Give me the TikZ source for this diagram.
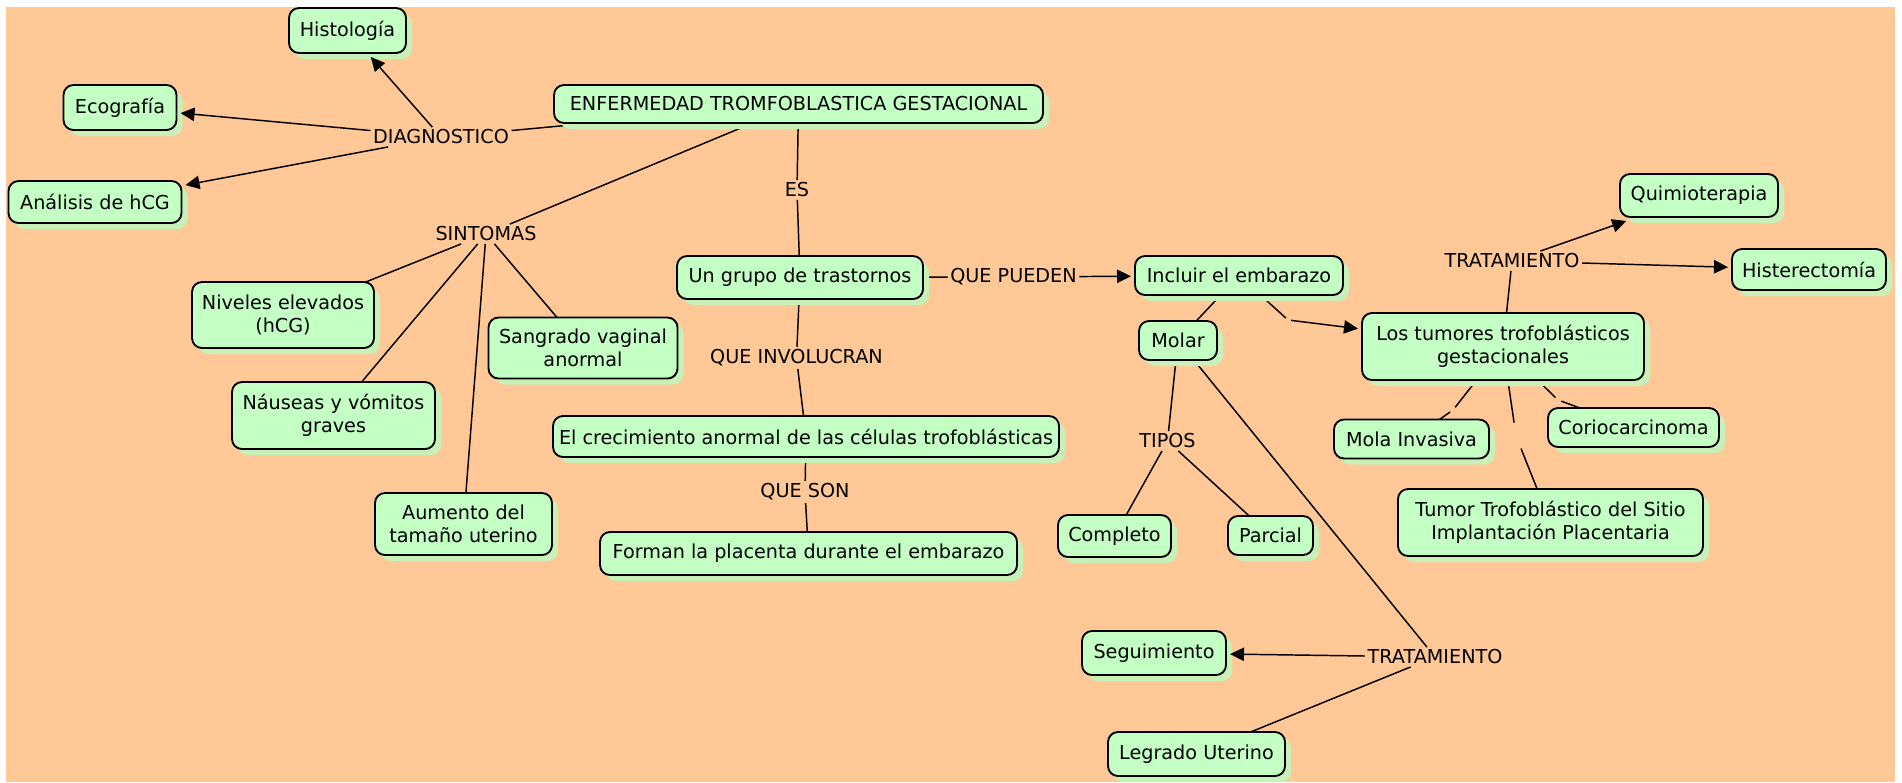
\documentclass[tikz,border=0pt]{standalone}
\usepackage{fontspec}
\setmainfont{DejaVu Sans}
\usetikzlibrary{arrows.meta,shadows}
\definecolor{bgorange}{RGB}{255,200,150}
\definecolor{boxgreen}{RGB}{196,255,196}
\definecolor{shadowgreen}{RGB}{200,240,185}
\pgfdeclarelayer{back}
\pgfdeclarelayer{lines}
\pgfsetlayers{back,lines,main}
\begin{document}
\begin{tikzpicture}[x=0.75pt,y=-0.75pt,
  every node/.style={font=\fontsize{14.4pt}{17.5pt}\selectfont},
  concept/.style={draw=black, line width=1.4pt, fill=boxgreen, rounded corners=7.5pt,
     inner sep=0pt, outer sep=3pt, align=center,
     general shadow={fill=shadowgreen, draw=none, shadow xshift=4.5pt, shadow yshift=-4.5pt}},
  sz/.style 2 args={minimum width={0.75pt*#1}, minimum height={0.75pt*#2}},
  lbl/.style={inner sep=2pt, outer sep=0pt},
  blankgap/.style={circle, inner sep=0pt, outer sep=0pt, minimum size={0.75pt*#1}},
  conn/.style={draw=black, line width=1.1pt},
  arr/.style={conn, -{Triangle[length=10.5pt,width=10pt]}}
]
\begin{pgfonlayer}{back}
\useasboundingbox (0,0) rectangle (1902,782);
\fill[white] (0,0) rectangle (1902,782);
\fill[bgorange] (6,7) rectangle (1895,782);
\end{pgfonlayer}

% concepts
\node[concept, sz={117}{45}] (hist) at (347.5,30.5) {Histología};
\node[concept, sz={113}{45}] (eco) at (120,107.5) {Ecografía};
\node[concept, sz={173}{42}] (anal) at (95,202) {Análisis de hCG};
\node[concept, sz={489}{38}] (enf) at (798.5,104) {ENFERMEDAD TROMFOBLASTICA GESTACIONAL};
\node[concept, sz={182}{66}] (niv) at (283,315) {Niveles elevados\\(hCG)};
\node[concept, sz={189}{61}] (sang) at (583,348) {Sangrado vaginal\\anormal};
\node[concept, sz={203}{67}] (naus) at (333.5,415.5) {Náuseas y vómitos\\graves};
\node[concept, sz={177}{62}] (aum) at (463.5,524) {Aumento del\\tamaño uterino};
\node[concept, sz={246}{43}] (grupo) at (800,277.5) {Un grupo de trastornos};
\node[concept, sz={208}{39}] (incl) at (1239,275.5) {Incluir el embarazo};
\node[concept, sz={78}{39}] (molar) at (1178,340.5) {Molar};
\node[concept, sz={506}{41}] (crec) at (806,436.5) {El crecimiento anormal de las células trofoblásticas};
\node[concept, sz={417}{43}] (forman) at (808.5,553.5) {Forman la placenta durante el embarazo};
\node[concept, sz={113}{42}] (compl) at (1114.5,536) {Completo};
\node[concept, sz={85}{39}] (parc) at (1270.5,535.5) {Parcial};
\node[concept, sz={282}{67}] (tum) at (1503,346.5) {Los tumores trofoblásticos\\gestacionales};
\node[concept, sz={155}{39}] (mola) at (1411.5,439) {Mola Invasiva};
\node[concept, sz={171}{39}] (corio) at (1633.5,427.5) {Coriocarcinoma};
\node[concept, sz={305}{67}] (ttsi) at (1550.5,522.5) {Tumor Trofoblástico del Sitio\\Implantación Placentaria};
\node[concept, sz={158}{43}] (quimio) at (1699,195.5) {Quimioterapia};
\node[concept, sz={154}{41}] (hister) at (1809,269.5) {Histerectomía};
\node[concept, sz={144}{44}] (segui) at (1154,653) {Seguimiento};
\node[concept, sz={177}{44}] (legr) at (1196.5,754) {Legrado Uterino};

% linking phrases
\node[lbl] (diag) at (441,137) {DIAGNOSTICO};
\node[lbl] (sint) at (486,234) {SINTOMAS};
\node[lbl] (es) at (797,190) {ES};
\node[lbl] (qp) at (1013.5,277) {QUE PUEDEN};
\node[lbl] (qi) at (796.5,358) {QUE INVOLUCRAN};
\node[lbl] (qs) at (805,492) {QUE SON};
\node[lbl] (tipos) at (1167.5,441) {TIPOS};
\node[lbl] (trat1) at (1512,261) {TRATAMIENTO};
\node[lbl] (trat2) at (1435,657) {TRATAMIENTO};

% blank linking phrases
\node[blankgap=6] (g1) at (1288,320) {};
\node[blankgap=7] (g2) at (1453,410) {};
\node[blankgap=7] (g3) at (1558,400) {};
\node[blankgap=27] (g4) at (1516,436) {};

% plain connectors, drawn under the concept boxes
\begin{pgfonlayer}{lines}
\draw[conn] (enf.center) -- (diag);
\draw[conn] (enf.center) -- (sint);
\draw[conn] (sint) -- (niv.center);
\draw[conn] (sint) -- (naus.center);
\draw[conn] (sint) -- (aum.center);
\draw[conn] (sint) -- (sang.center);
\draw[conn] (enf.center) -- (es);
\draw[conn] (es) -- (grupo.center);
\draw[conn] (grupo.center) -- (qp);
\draw[conn] (grupo.center) -- (qi);
\draw[conn] (qi) -- (crec.center);
\draw[conn] (crec.center) -- (qs);
\draw[conn] (qs) -- (forman.center);
\draw[conn] (incl.center) -- (molar.center);
\draw[conn] (incl.center) -- (g1);
\draw[conn] (molar.center) -- (tipos);
\draw[conn] (tipos) -- (compl.center);
\draw[conn] (tipos) -- (parc.center);
\draw[conn] (molar.center) -- (trat2);
\draw[conn] (trat2) -- (legr.center);
\draw[conn] (tum.center) -- (trat1);
\draw[conn] (tum.center) -- (g2);
\draw[conn] (g2) -- (mola.center);
\draw[conn] (tum.center) -- (g3);
\draw[conn] (g3) -- (corio.center);
\draw[conn] (tum.center) -- (g4);
\draw[conn] (g4) -- (ttsi.center);
\end{pgfonlayer}

% arrows
\draw[arr] (diag) -- (hist);
\draw[arr] (diag) -- (eco);
\draw[arr] (diag) -- (anal);
\draw[arr] (qp) -- (incl);
\draw[arr] (g1) -- (tum);
\draw[arr] (trat2) -- (segui);
\draw[arr] (trat1) -- (quimio);
\draw[arr] (trat1) -- (hister);
\end{tikzpicture}
\end{document}
